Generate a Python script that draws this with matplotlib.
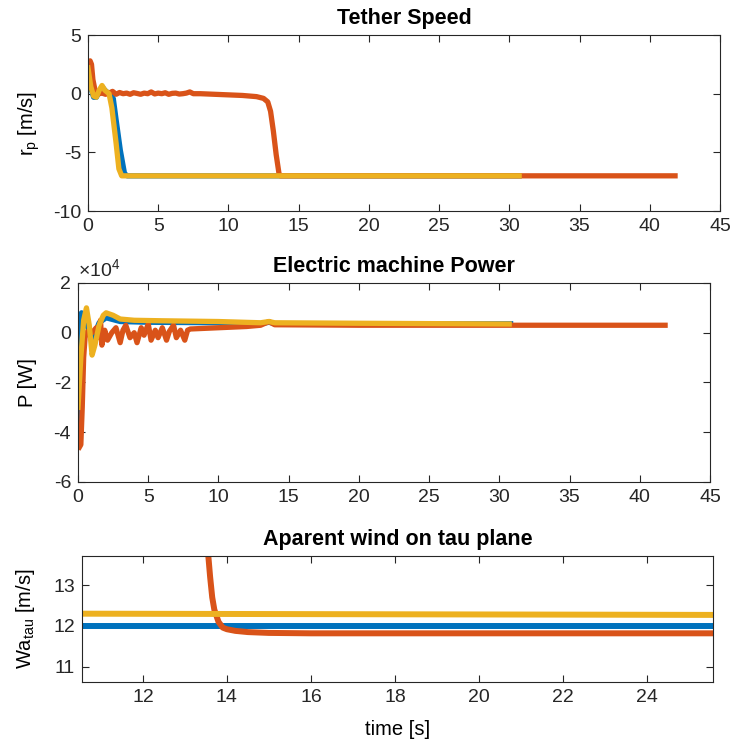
import numpy as np
import matplotlib.pyplot as plt
from matplotlib.ticker import FuncFormatter

plt.rcParams['font.family'] = ['Liberation Sans', 'DejaVu Sans']
plt.rcParams['mathtext.fontset'] = 'custom'
plt.rcParams['mathtext.rm'] = 'Liberation Sans'
plt.rcParams['mathtext.it'] = 'Liberation Sans'
plt.rcParams['axes.unicode_minus'] = False

# MATLAB default colours
c_blue = '#0072BD'
c_red = '#D95319'
c_yel = '#EDB120'

# ---- tether speed r_p [m/s]
t_rp_blue = [0, 0.2, 0.4, 0.6, 0.8, 1.0, 1.2, 1.5, 1.8, 2.0, 2.3, 2.6, 2.8, 30.7]
rp_blue = [2.0, 0.5, -0.3, -0.3, 0.2, 0.6, 0.3, 0.0, -0.4, -2.2, -4.8, -6.8, -7.0, -7.0]
t_rp_yel = [0, 0.2, 0.4, 0.6, 0.8, 1.0, 1.2, 1.5, 1.7, 2.0, 2.2, 2.4, 30.7]
rp_yel = [2.2, 0.6, -0.2, -0.3, 0.3, 0.7, 0.3, 0.0, -1.2, -4.2, -6.4, -7.0, -7.0]
t_rp_red = [0.05, 0.15, 0.25, 0.35, 0.5, 0.6, 0.8, 1.0, 1.25, 1.5, 1.75, 2.0, 2.25, 2.5,
            2.75, 3.0, 3.25, 3.5, 3.75, 4.0, 4.25, 4.5, 4.75, 5.0, 5.25, 5.5, 5.75,
            6.0, 6.25, 6.5, 6.75, 7.0, 7.25, 7.5, 8.0, 9.0, 10.0, 11.0, 12.0, 12.5,
            12.8, 13.0, 13.2, 13.4, 13.6, 13.7, 41.8]
rp_red = [2.6, 2.8, 2.5, 1.2, 0.3, 0.1, 0.0, 0.05, -0.05, 0.05, 0.2, -0.05, 0.1, 0.0,
          0.05, -0.05, 0.08, 0.02, -0.05, 0.05, 0.0, 0.15, -0.02, 0.05, 0.0, 0.08, -0.05,
          0.03, 0.05, -0.03, 0.0, 0.05, 0.15, 0.0, 0.0, -0.05, -0.1, -0.15, -0.25, -0.4,
          -0.7, -1.5, -3.2, -5.2, -6.8, -7.0, -7.0]

# ---- electric machine power P [W]
t_p_blue = [0, 0.1, 0.25, 0.5, 0.8, 1.0, 1.5, 2.0, 3.0, 5.0, 10.0, 13.0, 13.6, 14.0, 20.0, 30.8]
p_blue = [-3.8e4, -1.5e4, 0.8e4, 0.6e4, 0.0, -0.3e4, 0.4e4, 0.6e4, 0.45e4, 0.42e4, 0.4e4,
          0.36e4, 0.42e4, 0.36e4, 0.35e4, 0.36e4]
t_p_yel = [0, 0.2, 0.4, 0.6, 0.8, 1.0, 1.2, 1.5, 1.8, 2.0, 2.5, 3.0, 4.0, 6.0, 10.0, 13.0,
           13.6, 14.0, 20.0, 30.7]
p_yel = [-3.0e4, -1.0e4, 0.5e4, 1.0e4, 0.3e4, -0.9e4, -0.5e4, 0.3e4, 0.7e4, 0.8e4, 0.7e4,
         0.55e4, 0.5e4, 0.48e4, 0.45e4, 0.4e4, 0.45e4, 0.4e4, 0.38e4, 0.35e4]
t_p_red = [0.1, 0.2, 0.3, 0.4, 0.5, 0.6, 0.8, 1.0, 1.3, 1.5, 1.6, 1.7, 1.9, 2.1, 2.4, 2.7,
           3.0, 3.2, 3.4, 3.7, 4.0, 4.2, 4.5, 4.7, 5.0, 5.2, 5.5, 5.7, 6.0, 6.3, 6.5,
           6.8, 7.0, 7.3, 7.6, 7.8, 8.0, 10.0, 12.0, 13.0, 13.6, 14.0, 20.0, 41.8]
p_red = [-4.6e4, -4.5e4, -3.0e4, -1.0e4, -0.2e4, 0.0, 0.1e4, 0.0, 0.2e4, -0.2e4, 0.5e4,
         -0.5e4, 0.1e4, -0.3e4, 0.0, 0.2e4, -0.4e4, 0.1e4, 0.3e4, -0.2e4, 0.0, -0.4e4,
         0.2e4, -0.1e4, 0.35e4, -0.3e4, 0.1e4, -0.2e4, 0.2e4, -0.3e4, 0.05e4, 0.3e4,
         -0.2e4, 0.1e4, -0.3e4, 0.1e4, 0.15e4, 0.2e4, 0.25e4, 0.3e4, 0.45e4, 0.32e4,
         0.3e4, 0.3e4]

# ---- apparent wind on tau plane
t_w_blue = [10.5, 25.6]
w_blue = [12.0, 12.0]
t_w_yel = [10.5, 25.6]
w_yel = [12.3, 12.27]
t_w_red = [13.5, 13.55, 13.6, 13.65, 13.7, 13.8, 13.9, 14.0, 14.2, 14.5, 15.0, 16.0, 18.0, 25.6]
w_red = [14.5, 13.8, 13.2, 12.7, 12.4, 12.1, 11.96, 11.92, 11.88, 11.85, 11.83, 11.82, 11.82, 11.82]

fig = plt.figure(figsize=(7.32, 7.47), dpi=100)
lw = 3.8
fs = 14
fst = 15.5
dark = '#262626'


def style(ax):
    ax.tick_params(direction='in', top=True, right=True, labelsize=fs,
                   colors=dark, length=5, width=0.8, pad=5)
    for s in ax.spines.values():
        s.set_color(dark)
        s.set_linewidth(0.8)


ax1 = fig.add_axes([0.1202, 0.7175, 0.8634, 0.2356])
ax1.plot(t_rp_blue, rp_blue, color=c_blue, lw=lw)
ax1.plot(t_rp_red, rp_red, color=c_red, lw=lw)
ax1.plot(t_rp_yel, rp_yel, color=c_yel, lw=lw)
ax1.set_xlim(0, 45)
ax1.set_ylim(-10, 5)
ax1.set_xticks(np.arange(0, 46, 5))
ax1.set_yticks([-10, -5, 0, 5])
ax1.set_title('Tether Speed', fontsize=fst, fontweight='bold', pad=8)
ax1.set_ylabel('r$_p$ [m/s]', fontsize=fs + 0.5, labelpad=8)
style(ax1)

ax2 = fig.add_axes([0.1066, 0.3548, 0.8634, 0.2664])
ax2.plot(t_p_blue, p_blue, color=c_blue, lw=lw)
ax2.plot(t_p_red, p_red, color=c_red, lw=lw)
ax2.plot(t_p_yel, p_yel, color=c_yel, lw=lw)
ax2.set_xlim(0, 45)
ax2.set_ylim(-6e4, 2e4)
ax2.set_xticks(np.arange(0, 46, 5))
ax2.set_yticks([-6e4, -4e4, -2e4, 0, 2e4])
ax2.yaxis.set_major_formatter(FuncFormatter(lambda v, p: '%g' % (v / 1e4)))
ax2.text(0.0, 1.015, r'$\times$10$^4$', transform=ax2.transAxes, fontsize=fs,
         color=dark, ha='left', va='bottom')
ax2.set_title('Electric machine Power', fontsize=fst, fontweight='bold', pad=8)
ax2.set_ylabel('P [W]', fontsize=fs + 0.5, labelpad=12)
style(ax2)

ax3 = fig.add_axes([0.112, 0.0870, 0.862, 0.1687])
ax3.plot(t_w_blue, w_blue, color=c_blue, lw=lw + 0.5)
ax3.plot(t_w_red, w_red, color=c_red, lw=lw + 0.5)
ax3.plot(t_w_yel, w_yel, color=c_yel, lw=lw + 0.5)
ax3.set_xlim(10.55, 25.57)
ax3.set_ylim(10.63, 13.71)
ax3.set_xticks([12, 14, 16, 18, 20, 22, 24])
ax3.set_yticks([11, 12, 13])
ax3.set_title('Aparent wind on tau plane', fontsize=fst, fontweight='bold', pad=8)
ax3.set_ylabel('Wa$_{tau}$ [m/s]', fontsize=fs + 0.5, labelpad=12)
ax3.set_xlabel('time [s]', fontsize=fs + 0.5, labelpad=10)
style(ax3)

fig.savefig('out.png', dpi=100)
